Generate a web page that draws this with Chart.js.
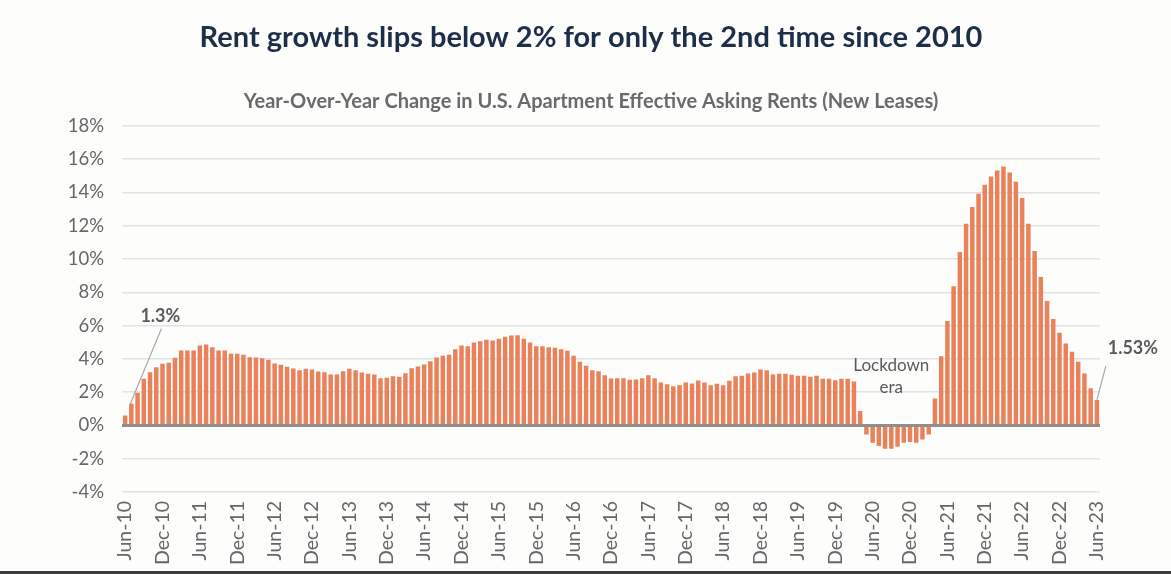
<!DOCTYPE html>
<html>
<head>
<meta charset="utf-8">
<script src="https://cdn.jsdelivr.net/npm/chart.js@4/dist/chart.umd.min.js"></script>
<style>
  html, body { margin: 0; padding: 0; background: #fdfdfc; }
  #wrap { width: 1171px; height: 571px; border-bottom: 3px solid #3b3b3b; position: relative; }
</style>
</head>
<body>
<div id="wrap"><canvas id="rentChart"></canvas></div>
<script>
// Monthly YoY change (%) in US apartment effective asking rents, Jun-10 .. Jun-23
const rentGrowth = [
  0.6, 1.3, 1.96, 2.8, 3.2, 3.5, 3.7, 3.76, 4.06, 4.5, 4.5, 4.5,
  4.8, 4.86, 4.7, 4.5, 4.5, 4.3, 4.3, 4.24, 4.1, 4.08, 4.04, 3.94,
  3.72, 3.64, 3.52, 3.42, 3.32, 3.4, 3.36, 3.24, 3.2, 3.06, 3.06, 3.26,
  3.4, 3.32, 3.18, 3.1, 3.06, 2.84, 2.86, 2.96, 2.92, 3.14, 3.44, 3.54,
  3.66, 3.86, 4.08, 4.18, 4.24, 4.58, 4.8, 4.76, 4.98, 5.06, 5.14, 5.1,
  5.2, 5.32, 5.4, 5.42, 5.2, 4.98, 4.76, 4.76, 4.7, 4.66, 4.58, 4.48,
  4.18, 3.82, 3.58, 3.32, 3.26, 3.02, 2.82, 2.84, 2.84, 2.74, 2.76, 2.84,
  3.02, 2.84, 2.58, 2.48, 2.36, 2.42, 2.58, 2.52, 2.7, 2.58, 2.42, 2.5,
  2.42, 2.68, 2.96, 2.98, 3.12, 3.18, 3.36, 3.32, 3.06, 3.1, 3.1, 3.04,
  2.98, 2.98, 2.92, 2.98, 2.8, 2.8, 2.72, 2.8, 2.8, 2.64, 0.86, -0.54,
  -1.04, -1.24, -1.4, -1.4, -1.28, -1.04, -1.0, -1.04, -0.84, -0.54, 1.62, 4.16,
  6.28, 8.36, 10.42, 12.12, 13.12, 13.92, 14.46, 14.96, 15.32, 15.56, 15.2, 14.64,
  13.66, 12.12, 10.48, 8.92, 7.48, 6.4, 5.56, 4.92, 4.42, 3.82, 3.12, 2.24,
  1.53
];

const monthNames = ['Jan','Feb','Mar','Apr','May','Jun','Jul','Aug','Sep','Oct','Nov','Dec'];
const firstMonth = 5;   // Jun
const firstYear = 2010;

const tickLabels = [
  'Jun-10','Dec-10','Jun-11','Dec-11','Jun-12','Dec-12','Jun-13','Dec-13','Jun-14',
  'Dec-14','Jun-15','Dec-15','Jun-16','Dec-16','Jun-17','Dec-17','Jun-18','Dec-18',
  'Jun-19','Dec-19','Jun-20','Dec-20','Jun-21','Dec-21','Jun-22','Dec-22','Jun-23'
];

// callouts: [text, bar index]
const callouts = [['1.3%', 1], ['1.53%', 156]];
const lockdownText = ['Lockdown', 'era'];
const lockdownBar = 123;
const lockdownLevels = [3.6, 2.25];

const months = rentGrowth.map((v, i) => {
  const m = (firstMonth + i) % 12;
  const y = firstYear + Math.floor((firstMonth + i) / 12);
  return monthNames[m] + '-' + String(y).slice(2);
});

const barColor = '#e9815a';
const textGrey = '#5a5a5a';

const annotationPlugin = {
  id: 'rentAnnotations',
  afterDatasetsDraw(chart) {
    const {ctx, scales: {x, y}} = chart;
    ctx.save();
    // zero line on top of bars
    const y0 = y.getPixelForValue(0);
    ctx.strokeStyle = '#8e8e8e';
    ctx.lineWidth = 3;
    ctx.beginPath();
    ctx.moveTo(chart.chartArea.left, y0);
    ctx.lineTo(chart.chartArea.right, y0);
    ctx.stroke();

    ctx.font = 'bold 18px Lato';
    ctx.fillStyle = textGrey;
    ctx.textAlign = 'center';
    ctx.textBaseline = 'middle';
    ctx.strokeStyle = '#a8a8a8';
    ctx.lineWidth = 1.2;

    // first callout: line rising to the upper right
    let [txt, idx] = callouts[0];
    let bx = x.getPixelForValue(idx);
    let by = y.getPixelForValue(rentGrowth[idx]);
    ctx.beginPath();
    ctx.moveTo(bx - 1, by);
    ctx.lineTo(bx + 30, by - 75);
    ctx.stroke();
    ctx.fillText(txt, bx + 29, by - 88);

    // last callout
    [txt, idx] = callouts[1];
    bx = x.getPixelForValue(idx);
    by = y.getPixelForValue(rentGrowth[idx]);
    ctx.beginPath();
    ctx.moveTo(bx, by);
    ctx.lineTo(bx + 9, by - 34);
    ctx.stroke();
    ctx.fillText(txt, bx + 36, by - 52);

    // lockdown label
    ctx.font = '17px Lato';
    const lx = x.getPixelForValue(lockdownBar);
    lockdownText.forEach((t, i) => {
      ctx.fillText(t, lx, y.getPixelForValue(lockdownLevels[i]));
    });
    ctx.restore();
  }
};

const ctx = document.getElementById('rentChart').getContext('2d');
new Chart(ctx, {
  type: 'bar',
  data: {
    labels: months,
    datasets: [{
      data: rentGrowth,
      backgroundColor: barColor,
      borderWidth: 0,
      barPercentage: 0.72,
      categoryPercentage: 1.0
    }]
  },
  options: {
    responsive: true,
    maintainAspectRatio: false,
    animation: false,
    layout: { padding: { left: 11, right: 0, top: 0, bottom: 0 } },
    plugins: {
      legend: { display: false },
      tooltip: { enabled: false },
      title: {
        display: true,
        text: 'Rent growth slips below 2% for only the 2nd time since 2010',
        color: '#1c2e48',
        font: { family: 'Lato', size: 29, weight: 'bold' },
        padding: { top: 20, bottom: 0 }
      },
      subtitle: {
        display: true,
        text: 'Year-Over-Year Change in U.S. Apartment Effective Asking Rents (New Leases)',
        color: '#6a6a6a',
        font: { family: 'Lato', size: 20, weight: 'bold' },
        padding: { top: 35, bottom: 12 }
      }
    },
    scales: {
      x: {
        grid: { display: false, drawTicks: false },
        border: { display: false },
        ticks: {
          autoSkip: false,
          maxRotation: 90,
          minRotation: 90,
          padding: 9,
          color: '#666',
          font: { family: 'Lato', size: 19.5 },
          callback: function(value) {
            const lbl = this.getLabelForValue(value);
            return tickLabels.includes(lbl) ? lbl : '';
          }
        },
        afterFit: (scale) => { scale.height = 79; }
      },
      y: {
        min: -4,
        max: 18,
        ticks: {
          stepSize: 2,
          padding: 18,
          color: '#666',
          font: { family: 'Lato', size: 18.5 },
          callback: (v) => v + '%'
        },
        grid: { color: '#e2e2e2', lineWidth: 1.5, drawTicks: false },
        border: { display: false },
        afterFit: (scale) => { scale.width = 111; }
      },
      // empty right-hand spacer so the plot ends where the original does
      yRight: {
        position: 'right',
        grid: { display: false, drawTicks: false },
        border: { display: false },
        ticks: { display: false },
        afterFit: (scale) => { scale.width = 71; }
      }
    }
  },
  plugins: [annotationPlugin]
});
</script>
</body>
</html>
